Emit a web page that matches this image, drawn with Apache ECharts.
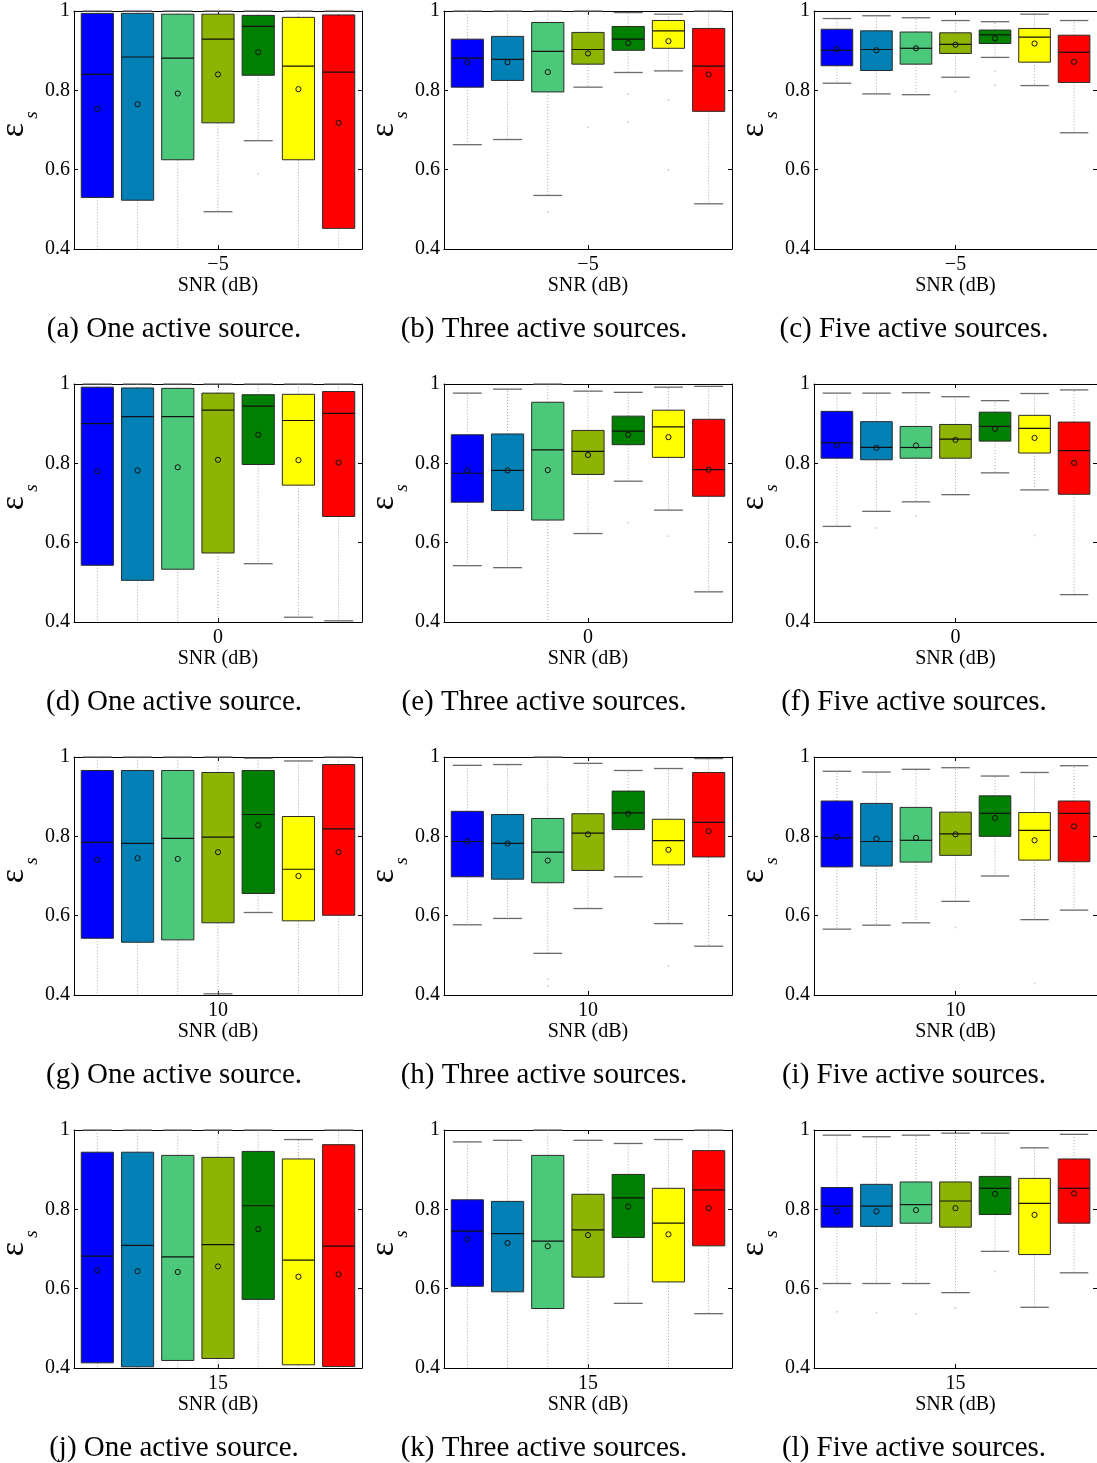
<!DOCTYPE html>
<html><head><meta charset="utf-8">
<script src="https://cdn.jsdelivr.net/npm/echarts@6/dist/echarts.min.js"></script>
<style>html,body{margin:0;padding:0;background:#fff}#c{width:1097px;height:1463px}</style>
</head><body><div id="c"></div>
<script>
// ---------------- data ----------------
const snrLabels = ['\u22125', '0', '10', '15'];
const captions = [
  '(a) One active source.', '(b) Three active sources.', '(c) Five active sources.',
  '(d) One active source.', '(e) Three active sources.', '(f) Five active sources.',
  '(g) One active source.', '(h) Three active sources.', '(i) Five active sources.',
  '(j) One active source.', '(k) Three active sources.', '(l) Five active sources.'
];
const methods = [1, 2, 3, 4, 5, 6, 7];
const boxColors = ['#0000FF', '#0080B4', '#4CC87A', '#8CB400', '#008000', '#FFFF00', '#FF0000'];

const upperWhisker = [
  [1.0, 1.0, 1.0, 1.0, 1.0, 1.0, 1.0],
  [1.0, 1.0, 1.0, 1.0, 0.996, 0.992, 1.0],
  [0.981, 0.988, 0.983, 0.976, 0.973, 0.992, 0.976],
  [1.0, 1.0, 1.0, 1.0, 1.0, 1.0, 1.0],
  [0.977, 0.987, 1.0, 0.982, 0.979, 0.992, 0.994],
  [0.977, 0.977, 0.978, 0.968, 0.958, 0.976, 0.985],
  [1.0, 1.0, 1.0, 1.0, 0.997, 0.990, 1.0],
  [0.979, 0.981, 1.0, 0.984, 0.966, 0.971, 0.996],
  [0.964, 0.962, 0.969, 0.973, 0.952, 0.961, 0.978],
  [1.0, 1.0, 1.0, 1.0, 1.0, 0.976, 1.0],
  [0.970, 0.974, 1.0, 0.974, 0.966, 0.976, 1.0],
  [0.987, 0.983, 0.987, 0.992, 0.992, 0.955, 0.989]
];
const q3 = [
  [0.994, 0.994, 0.992, 0.992, 0.989, 0.984, 0.990],
  [0.929, 0.936, 0.971, 0.946, 0.961, 0.976, 0.956],
  [0.954, 0.950, 0.947, 0.945, 0.952, 0.956, 0.939],
  [0.992, 0.990, 0.989, 0.977, 0.973, 0.974, 0.981],
  [0.872, 0.874, 0.954, 0.883, 0.919, 0.934, 0.911],
  [0.931, 0.905, 0.893, 0.898, 0.929, 0.921, 0.904],
  [0.966, 0.966, 0.966, 0.961, 0.966, 0.850, 0.981],
  [0.863, 0.855, 0.845, 0.857, 0.914, 0.843, 0.961],
  [0.889, 0.883, 0.873, 0.861, 0.902, 0.860, 0.889],
  [0.944, 0.944, 0.936, 0.931, 0.946, 0.927, 0.963],
  [0.824, 0.820, 0.936, 0.838, 0.888, 0.853, 0.948],
  [0.855, 0.863, 0.869, 0.869, 0.883, 0.878, 0.927]
];
const median = [
  [0.840, 0.884, 0.881, 0.929, 0.961, 0.861, 0.846],
  [0.881, 0.878, 0.898, 0.903, 0.929, 0.950, 0.861],
  [0.901, 0.903, 0.906, 0.916, 0.940, 0.934, 0.896],
  [0.900, 0.918, 0.918, 0.934, 0.944, 0.908, 0.926],
  [0.775, 0.782, 0.834, 0.830, 0.881, 0.892, 0.784],
  [0.852, 0.840, 0.840, 0.861, 0.893, 0.888, 0.832],
  [0.785, 0.782, 0.795, 0.798, 0.855, 0.717, 0.819],
  [0.787, 0.782, 0.760, 0.808, 0.859, 0.789, 0.835],
  [0.796, 0.787, 0.790, 0.806, 0.858, 0.815, 0.858],
  [0.682, 0.709, 0.680, 0.711, 0.809, 0.672, 0.707],
  [0.745, 0.739, 0.720, 0.748, 0.829, 0.765, 0.849],
  [0.808, 0.808, 0.812, 0.821, 0.853, 0.815, 0.853]
];
const q1 = [
  [0.530, 0.523, 0.625, 0.718, 0.838, 0.625, 0.452],
  [0.808, 0.825, 0.796, 0.866, 0.901, 0.906, 0.747],
  [0.862, 0.850, 0.866, 0.893, 0.918, 0.871, 0.820],
  [0.543, 0.505, 0.533, 0.574, 0.797, 0.745, 0.666],
  [0.702, 0.681, 0.657, 0.772, 0.847, 0.815, 0.717],
  [0.813, 0.809, 0.813, 0.813, 0.856, 0.826, 0.722],
  [0.543, 0.533, 0.539, 0.582, 0.656, 0.587, 0.601],
  [0.698, 0.692, 0.683, 0.714, 0.817, 0.728, 0.748],
  [0.723, 0.725, 0.735, 0.752, 0.800, 0.740, 0.736],
  [0.413, 0.403, 0.419, 0.424, 0.573, 0.408, 0.404],
  [0.606, 0.592, 0.550, 0.629, 0.729, 0.617, 0.708],
  [0.755, 0.757, 0.765, 0.755, 0.787, 0.686, 0.765]
];
const lowerWhisker = [
  [0.35, 0.35, 0.35, 0.494, 0.673, 0.35, 0.35],
  [0.663, 0.676, 0.535, 0.808, 0.845, 0.849, 0.514],
  [0.818, 0.791, 0.789, 0.833, 0.883, 0.812, 0.693],
  [0.35, 0.35, 0.35, 0.35, 0.547, 0.412, 0.403],
  [0.542, 0.537, 0.35, 0.623, 0.755, 0.682, 0.476],
  [0.641, 0.679, 0.703, 0.721, 0.776, 0.733, 0.469],
  [0.35, 0.35, 0.35, 0.403, 0.608, 0.35, 0.35],
  [0.577, 0.593, 0.505, 0.618, 0.698, 0.580, 0.523],
  [0.566, 0.576, 0.582, 0.636, 0.700, 0.590, 0.614],
  [0.35, 0.35, 0.35, 0.35, 0.35, 0.35, 0.35],
  [0.35, 0.35, 0.35, 0.35, 0.563, 0.35, 0.537],
  [0.613, 0.613, 0.613, 0.590, 0.694, 0.553, 0.640]
];
const mean = [
  [0.753, 0.765, 0.792, 0.840, 0.896, 0.803, 0.718],
  [0.871, 0.871, 0.846, 0.893, 0.919, 0.924, 0.840],
  [0.904, 0.901, 0.906, 0.915, 0.931, 0.918, 0.872],
  [0.780, 0.782, 0.790, 0.809, 0.872, 0.808, 0.802],
  [0.782, 0.782, 0.783, 0.821, 0.872, 0.866, 0.784],
  [0.845, 0.839, 0.845, 0.859, 0.887, 0.864, 0.801],
  [0.741, 0.745, 0.743, 0.760, 0.828, 0.700, 0.760],
  [0.787, 0.782, 0.739, 0.805, 0.857, 0.766, 0.813],
  [0.798, 0.794, 0.796, 0.805, 0.846, 0.790, 0.825],
  [0.646, 0.644, 0.642, 0.656, 0.750, 0.630, 0.636],
  [0.724, 0.715, 0.707, 0.735, 0.807, 0.737, 0.803],
  [0.795, 0.795, 0.798, 0.803, 0.839, 0.786, 0.840]
];
// outliers: [method, value] per panel
const outliers = [
  [[5, 0.59]],
  [[3, 0.493], [4, 0.707], [5, 0.79], [5, 0.72], [6, 0.776], [6, 0.60]],
  [[4, 0.797], [5, 0.848], [5, 0.813]],
  [],
  [[5, 0.65], [6, 0.616]],
  [[2, 0.637], [3, 0.668], [6, 0.618]],
  [],
  [[3, 0.44], [3, 0.423], [6, 0.473]],
  [[4, 0.57], [6, 0.429]],
  [],
  [],
  [[1, 0.542], [2, 0.539], [3, 0.537], [4, 0.552], [5, 0.643]]
];

// ---------------- layout ----------------
const FONT = '"Liberation Serif", "Times New Roman", serif';
const colLeft = [74, 444, 814];
const rowTop = [11, 384, 757, 1130];
const PW = 288, PH = 238;

function renderBox(params, api) {
  const cs = params.coordSys;
  const x = api.value(0);
  const top = cs.y, bot = cs.y + cs.height;
  const clampY = y => Math.max(top, Math.min(bot, y));
  const px = api.coord([x, 0.7])[0];
  const yv = v => api.coord([x, v])[1];
  const bw = api.size([0.8, 0])[0];
  const cw = api.size([0.72, 0])[0];
  const lw = api.value(1), uw = api.value(5);
  const yLW = clampY(yv(lw)), yQ1 = clampY(yv(api.value(2))), yMed = yv(api.value(3));
  const yQ3 = clampY(yv(api.value(4))), yUW = clampY(yv(uw)), yMean = yv(api.value(6));
  const color = boxColors[api.value(7)];
  const whisk = { stroke: '#a8a8a8', lineWidth: 1, lineDash: [1, 2] };
  const cap = { stroke: '#6a6a6a', lineWidth: 1.3 };
  const ch = [
    { type: 'line', shape: { x1: px, y1: yQ1, x2: px, y2: yLW }, style: whisk },
    { type: 'line', shape: { x1: px, y1: yQ3, x2: px, y2: yUW }, style: whisk }
  ];
  if (lw >= 0.4) ch.push({ type: 'line', shape: { x1: px - cw / 2, y1: yLW, x2: px + cw / 2, y2: yLW }, style: cap });
  if (uw <= 1.0) ch.push({ type: 'line', shape: { x1: px - cw / 2, y1: yUW, x2: px + cw / 2, y2: yUW }, style: cap });
  ch.push(
    { type: 'rect', shape: { x: px - bw / 2, y: yQ3, width: bw, height: yQ1 - yQ3 },
      style: { fill: color, stroke: '#2a2a2a', lineWidth: 1 } },
    { type: 'line', shape: { x1: px - bw / 2, y1: yMed, x2: px + bw / 2, y2: yMed },
      style: { stroke: '#111', lineWidth: 1.2 } },
    { type: 'circle', shape: { cx: px, cy: yMean, r: 2.6 },
      style: { fill: 'none', stroke: '#111', lineWidth: 1 } }
  );
  return { type: 'group', children: ch };
}

const grids = [], xAxes = [], yAxes = [], series = [], graphics = [];
for (let p = 0; p < 12; p++) {
  const r = Math.floor(p / 3), c = p % 3;
  const L = colLeft[c], T = rowTop[r];
  grids.push({ left: L, top: T, width: PW, height: PH });
  const lineStyle = { color: '#000', width: 1 };
  const xBase = {
    gridIndex: p, type: 'value', min: 0.42, max: 7.58,
    axisLine: { show: true, onZero: false, lineStyle },
    axisTick: { show: true, inside: true, length: 4, customValues: [4], lineStyle },
    splitLine: { show: false }
  };
  xAxes.push(Object.assign({}, xBase, {
    position: 'bottom',
    axisLabel: { show: true, customValues: [4], formatter: () => snrLabels[r],
      fontFamily: FONT, fontSize: 20, color: '#000', margin: 6 },
    name: 'SNR (dB)', nameLocation: 'middle', nameGap: 21,
    nameTextStyle: { fontFamily: FONT, fontSize: 20, color: '#000', verticalAlign: 'top' }
  }));
  xAxes.push(Object.assign({}, xBase, { position: 'top', axisLabel: { show: false } }));
  const yBase = {
    gridIndex: p, type: 'value', min: 0.4, max: 1, interval: 0.2,
    axisLine: { show: true, onZero: false, lineStyle },
    axisTick: { show: true, inside: true, length: 4, lineStyle },
    splitLine: { show: false }
  };
  yAxes.push(Object.assign({}, yBase, {
    position: 'left',
    axisLabel: { show: true, fontFamily: FONT, fontSize: 20, color: '#000', margin: 4,
      formatter: v => (Math.abs(v - 1) < 1e-9 ? '1' : v.toFixed(1)) }
  }));
  yAxes.push(Object.assign({}, yBase, { position: 'right', axisLabel: { show: false } }));

  series.push({
    type: 'custom', xAxisIndex: 2 * p, yAxisIndex: 2 * p, silent: true, z: 3,
    renderItem: renderBox,
    encode: { x: 0, y: [1, 2, 3, 4, 5] },
    data: methods.map((m, i) => [m, lowerWhisker[p][i], q1[p][i], median[p][i], q3[p][i], upperWhisker[p][i], mean[p][i], i])
  });
  series.push({
    type: 'scatter', xAxisIndex: 2 * p, yAxisIndex: 2 * p, silent: true, z: 2,
    symbol: 'circle', symbolSize: 2, itemStyle: { color: '#c8c8c8' },
    data: outliers[p]
  });

  // y-axis name: epsilon with subscript s (rotated)
  graphics.push({
    type: 'text', x: L - 60, y: T + PH / 2, rotation: Math.PI / 2,
    style: { text: '\u03b5', font: '34px ' + FONT, fill: '#000', textAlign: 'center', textVerticalAlign: 'middle' }
  });
  graphics.push({
    type: 'text', x: L - 42, y: T + PH / 2 - 15, rotation: Math.PI / 2,
    style: { text: 's', font: 'italic 19px ' + FONT, fill: '#000', textAlign: 'center', textVerticalAlign: 'middle' }
  });
  graphics.push({
    type: 'text', x: L + 100, y: T + 318,
    style: { text: captions[p], font: '29px ' + FONT, fill: '#000', textAlign: 'center', textVerticalAlign: 'middle' }
  });
}

const chart = echarts.init(document.getElementById('c'));
chart.setOption({
  animation: false,
  backgroundColor: '#fff',
  grid: grids, xAxis: xAxes, yAxis: yAxes, series: series,
  graphic: graphics
});
</script>
</body></html>
